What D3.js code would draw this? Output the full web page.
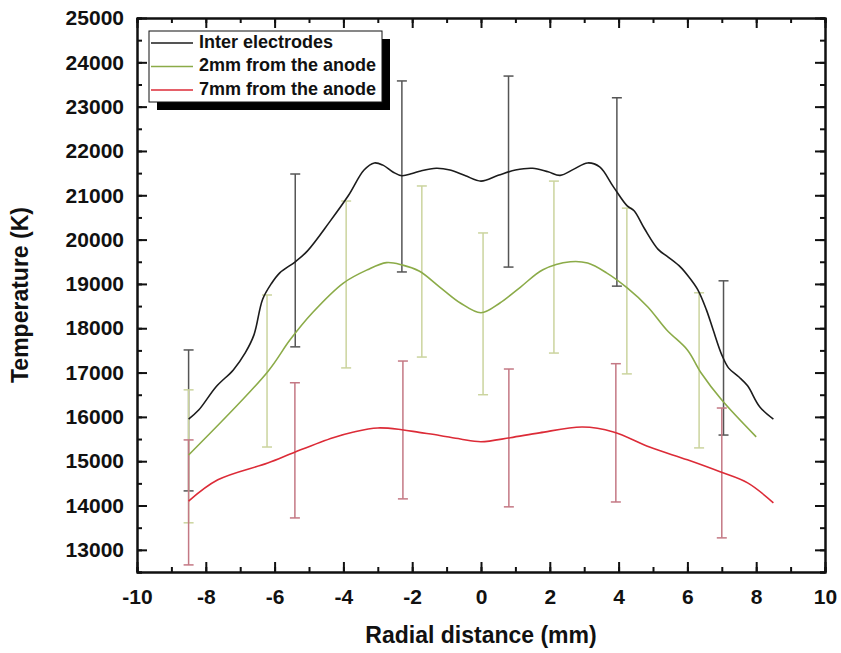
<!DOCTYPE html>
<html>
<head>
<meta charset="utf-8">
<script src="https://cdn.jsdelivr.net/npm/d3@7"></script>
<style>
  body { margin: 0; background: #fff; }
  svg text { font-family: Arial, "Liberation Sans", sans-serif; font-weight: bold; fill: #111; }
</style>
</head>
<body>
<svg id="svg" width="841" height="653"></svg>
<script>
// curves (radial distance in mm, temperature in K)
const interX = [-8.5, -8.2, -7.7, -7.2, -6.85, -6.6, -6.35, -6.1, -5.85, -5.4, -5.05, -4.4, -3.85, -3.4, -3.1, -2.85, -2.55, -2.3, -2.0, -1.75, -1.3, -0.9, -0.45, 0, 0.5, 1.0, 1.5, 1.95, 2.3, 2.7, 3.1, 3.45, 3.85, 4.25, 4.45, 4.75, 5.15, 5.45, 5.8, 6.05, 6.3, 6.55, 6.75, 7.0, 7.2, 7.5, 7.75, 8.1, 8.5];
const interT = [15950, 16160, 16680, 17060, 17450, 17850, 18650, 19000, 19250, 19500, 19740, 20400, 21000, 21570, 21730, 21680, 21520, 21440, 21490, 21550, 21610, 21570, 21440, 21320, 21450, 21570, 21610, 21530, 21450, 21590, 21730, 21640, 21190, 20760, 20650, 20250, 19780, 19600, 19380, 19150, 18870, 18420, 17960, 17400, 17100, 16900, 16700, 16230, 15950];

const anode2X = [-8.5, -6.2, -5.55, -4.9, -4.0, -3.3, -2.75, -2.3, -1.8, -1.2, -0.6, 0, 0.55, 1.15, 1.8, 2.6, 3.1, 3.65, 4.25, 4.85, 5.4, 6.0, 6.4, 7.0, 8.0];
const anode2T = [15140, 17020, 17740, 18350, 19020, 19320, 19480, 19430, 19290, 18930, 18570, 18350, 18570, 18930, 19320, 19500, 19470, 19250, 18910, 18480, 17960, 17510, 16990, 16380, 15550];

const anode7X = [-8.5, -7.65, -6.2, -5.4, -4.3, -3.7, -3.0, -2.3, -1.8, -1.2, -0.6, 0, 0.85, 1.7, 2.95, 3.85, 4.9, 6.0, 6.95, 7.75, 8.5];
const anode7T = [14100, 14580, 14960, 15210, 15530, 15660, 15750, 15710, 15650, 15580, 15500, 15440, 15530, 15640, 15770, 15660, 15320, 15030, 14760, 14510, 14060];

// error bars
const interErrX = [-8.5, -5.4, -2.3, 0.8, 3.95, 7.05];
const interErrLo = [14330, 17580, 19270, 19380, 18950, 15590];
const interErrHi = [17510, 21480, 23580, 23690, 23200, 19070];

const anode2ErrX = [-8.5, -6.22, -3.92, -1.72, 0.06, 2.12, 4.24, 6.34];
const anode2ErrLo = [13610, 15320, 17105, 17350, 16500, 17440, 16970, 15300];
const anode2ErrHi = [16610, 18750, 20870, 21210, 20150, 21320, 20710, 18800];

const anode7ErrX = [-8.5, -5.41, -2.27, 0.81, 3.92, 7.0];
const anode7ErrLo = [12660, 13720, 14150, 13970, 14080, 13270];
const anode7ErrHi = [15480, 16770, 17260, 17080, 17200, 16200];

const legendLabels = ["Inter electrodes", "2mm from the anode", "7mm from the anode"];
const xTicks = [-10, -8, -6, -4, -2, 0, 2, 4, 6, 8, 10];
const yTicks = [13000, 14000, 15000, 16000, 17000, 18000, 19000, 20000, 21000, 22000, 23000, 24000, 25000];

const svg = d3.select("#svg"),
    mLeft = 137, mRight = 825, mTop = 18, mBottom = 572;

const x = d3.scaleLinear().domain([-10, 10]).range([mLeft, mRight]),
    y = d3.scaleLinear().domain([12500, 25000]).range([mBottom, mTop]);

const series = [
    {x: interX, t: interT, ex: interErrX, lo: interErrLo, hi: interErrHi, line: "#1c1c1c", bar: "#555"},
    {x: anode2X, t: anode2T, ex: anode2ErrX, lo: anode2ErrLo, hi: anode2ErrHi, line: "#8bab48", bar: "#cbd49e"},
    {x: anode7X, t: anode7T, ex: anode7ErrX, lo: anode7ErrLo, hi: anode7ErrHi, line: "#dc2b37", bar: "#c47884"}
];

// minor ticks first
const xMinor = d3.range(-10, 10.01, 1), yMinor = d3.range(12500, 25001, 500);
function minor(axis, vals) { return axis.tickValues(vals).tickSize(-5).tickFormat(""); }
svg.append("g").attr("transform", "translate(0," + mBottom + ")").call(minor(d3.axisBottom(x), xMinor));
svg.append("g").attr("transform", "translate(0," + mTop + ")").call(minor(d3.axisTop(x), xMinor));
svg.append("g").attr("transform", "translate(" + mLeft + ",0)").call(minor(d3.axisLeft(y), yMinor));
svg.append("g").attr("transform", "translate(" + mRight + ",0)").call(minor(d3.axisRight(y), yMinor));

svg.append("g").attr("transform", "translate(0," + mBottom + ")")
    .call(d3.axisBottom(x).tickValues(xTicks).tickSizeInner(-10).tickSizeOuter(0).tickPadding(17).tickFormat(d => String(d)));
svg.append("g").attr("transform", "translate(0," + mTop + ")")
    .call(d3.axisTop(x).tickValues(xTicks).tickSizeInner(-10).tickSizeOuter(0).tickFormat(""));
svg.append("g").attr("transform", "translate(" + mLeft + ",0)")
    .call(d3.axisLeft(y).tickValues(yTicks).tickSizeInner(-10).tickSizeOuter(0).tickPadding(13).tickFormat(d => String(d)));
svg.append("g").attr("transform", "translate(" + mRight + ",0)")
    .call(d3.axisRight(y).tickValues(yTicks).tickSizeInner(-10).tickSizeOuter(0).tickFormat(""));

svg.selectAll(".domain").attr("stroke", "#111").attr("stroke-width", 2);
svg.selectAll(".tick line").attr("stroke", "#111").attr("stroke-width", 2);
svg.selectAll(".tick text").style("font-size", "21px").attr("fill", "#111");

// error bars
series.forEach(s => {
    const g = svg.append("g");
    s.ex.forEach((v, i) => {
        const px = x(v);
        g.append("line").attr("x1", px).attr("x2", px).attr("y1", y(s.lo[i])).attr("y2", y(s.hi[i]))
            .attr("stroke", s.bar).attr("stroke-width", 1.5);
        [s.lo[i], s.hi[i]].forEach(e => {
            g.append("line").attr("x1", px - 5).attr("x2", px + 5).attr("y1", y(e)).attr("y2", y(e))
                .attr("stroke", s.bar).attr("stroke-width", 1.5);
        });
    });
});

// curves
const line = d3.line().x(d => x(d[0])).y(d => y(d[1])).curve(d3.curveCatmullRom.alpha(0.5));
series.forEach(s => {
    svg.append("path").attr("d", line(s.x.map((v, i) => [v, s.t[i]])))
        .attr("fill", "none").attr("stroke", s.line).attr("stroke-width", 1.6);
});

// axis titles
svg.append("text").attr("x", (mLeft + mRight) / 2).attr("y", 637).attr("text-anchor", "middle")
    .attr("dominant-baseline", "middle").style("font-size", "23px").text("Radial distance (mm)");
svg.append("text").attr("transform", "translate(22," + (mTop + mBottom) / 2 + ") rotate(-90)")
    .attr("text-anchor", "middle").attr("dominant-baseline", "middle").style("font-size", "23px").text("Temperature (K)");

// legend
const lg = svg.append("g");
lg.append("rect").attr("x", 157).attr("y", 39).attr("width", 233).attr("height", 71).attr("fill", "#000");
lg.append("rect").attr("x", 149).attr("y", 31).attr("width", 233).attr("height", 71)
    .attr("fill", "#fff").attr("stroke", "#111").attr("stroke-width", 1);
legendLabels.forEach((lab, i) => {
    const ly = 43 + i * 23.5;
    lg.append("line").attr("x1", 151).attr("x2", 193).attr("y1", ly).attr("y2", ly)
        .attr("stroke", series[i].line).attr("stroke-width", 1.5);
    lg.append("text").attr("x", 199).attr("y", ly).attr("dominant-baseline", "middle")
        .style("font-size", "18px").text(lab);
});
</script>
</body>
</html>
